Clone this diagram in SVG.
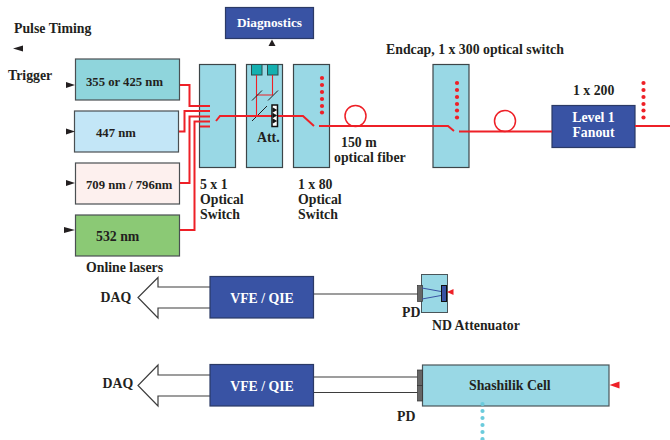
<svg xmlns="http://www.w3.org/2000/svg" width="670" height="440" viewBox="0 0 670 440">
<defs><style>
text{font-family:"Liberation Serif","Times New Roman",serif;font-weight:bold;font-size:13.8px;fill:#231f20}
text.l{font-size:12.7px}
text.w{fill:#fff;text-anchor:middle}
.box{stroke:#4a4f52;stroke-width:1.2}
.sw{fill:#99d8e5;stroke:#3c4548;stroke-width:1.2}
.blue{fill:#3953a4;stroke:#2b3a66;stroke-width:1.2}
.r{fill:none;stroke:#ee2027;stroke-width:2}
.rt{fill:none;stroke:#ee2027;stroke-width:1.1}
.coil{fill:none;stroke:#ee2027;stroke-width:1.5}
.k{fill:none;stroke:#3d3d3d;stroke-width:1.2}
.dot{fill:#ee2027}
.cdot{fill:#6bcbdc}
</style></defs>
<g id="node-pulse"><text x="14" y="33">Pulse Timing</text><path d="M13 48.500L23 45.500V51.500Z" fill="#231f20"/></g>
<g id="node-trigger"><text x="8" y="79.500">Trigger</text></g>
<g id="laser-355"><rect class="box" x="75.500" y="59" width="104" height="41" fill="#8fd5dc"/><text class="l" x="86" y="85.500">355 or 425 nm</text><path d="M66 82L75 85L66 88Z" fill="#231f20"/></g>
<g id="laser-447"><rect class="box" x="74.500" y="111" width="104" height="41" fill="#c3e6f7"/><text class="l" x="96" y="137">447 nm</text><path d="M66 128.500L75 131.500L66 134.500Z" fill="#231f20"/></g>
<g id="laser-709"><rect class="box" x="75.500" y="163" width="104" height="41" fill="#fdf0ee"/><text class="l" x="86" y="189">709 nm / 796nm</text><path d="M66 180L75 183L66 186Z" fill="#231f20"/></g>
<g id="laser-532"><rect class="box" x="75.500" y="215" width="104" height="41" fill="#8bc975"/><text x="96" y="240.500">532 nm</text><path d="M64 227L75 230L64 233Z" fill="#231f20"/><text x="86" y="272">Online lasers</text></g>
<g id="switch-5x1"><rect class="sw" x="199.500" y="64.500" width="36" height="103"/>
<text x="200" y="189">5 x 1</text><text x="200" y="204">Optical</text><text x="200" y="219">Switch</text></g>
<g id="att-box"><rect class="sw" x="246.500" y="64.500" width="36" height="103"/>
<rect x="251.500" y="64.500" width="10.500" height="10.500" fill="#14b0b0" stroke="#2d4a4a"/><rect x="267.500" y="64.500" width="10.500" height="10.500" fill="#14b0b0" stroke="#2d4a4a"/>
<path class="rt" d="M256.500 75V116M272.500 75V95H256.500"/>
<path d="M252 100.500L262 90.500M268 100.500L278 90.500M252 121L267 106" stroke="#222" stroke-width="1" fill="none"/>
<text x="257" y="142">Att.</text></g>
<g id="switch-1x80"><rect class="sw" x="293.500" y="64.500" width="36" height="103"/>
<circle class="dot" cx="322" cy="78" r="2.100"/><circle class="dot" cx="322" cy="85" r="2.100"/><circle class="dot" cx="322" cy="92" r="2.100"/><circle class="dot" cx="322" cy="99" r="2.100"/><circle class="dot" cx="322" cy="106" r="2.100"/><circle class="dot" cx="322" cy="112.500" r="2.100"/>
<text x="298" y="189">1 x 80</text><text x="298" y="204">Optical</text><text x="298" y="219">Switch</text></g>
<g id="diagnostics"><rect class="blue" x="225.500" y="7.500" width="88" height="31"/><text class="w" x="269.500" y="27" style="font-size:13.300px">Diagnostics</text><path d="M272 39.500L268.500 46H275.500Z" fill="#231f20"/></g>
<g id="fiber-label"><text x="341" y="147">150 m</text><text x="334" y="162">optical fiber</text></g>
<text x="386" y="54">Endcap, 1 x 300 optical switch</text>
<g id="endcap-switch"><rect class="sw" x="433" y="64.500" width="36" height="103"/>
<circle class="dot" cx="457" cy="83" r="2.100"/><circle class="dot" cx="457" cy="90" r="2.100"/><circle class="dot" cx="457" cy="97" r="2.100"/><circle class="dot" cx="457" cy="104" r="2.100"/><circle class="dot" cx="457" cy="110.500" r="2.100"/><circle class="dot" cx="457" cy="117.500" r="2.100"/></g>
<g id="fanout"><rect class="blue" x="552" y="105.500" width="83" height="42"/><text class="w" x="593.500" y="121.500">Level 1</text><text class="w" x="593.500" y="137">Fanout</text>
<text x="573" y="95">1 x 200</text>
<circle class="dot" cx="643.500" cy="83" r="2.100"/><circle class="dot" cx="643.500" cy="90" r="2.100"/><circle class="dot" cx="643.500" cy="97" r="2.100"/><circle class="dot" cx="643.500" cy="104" r="2.100"/><circle class="dot" cx="643.500" cy="110.500" r="2.100"/><circle class="dot" cx="643.500" cy="117.500" r="2.100"/></g>
<g id="daq-1"><path class="k" d="M210 287H158V277.500L138 297.500L158 318V308H210" fill="#fff"/><text x="100.500" y="301.500">DAQ</text></g>
<g id="vfe-1"><rect class="blue" x="210" y="276.500" width="103.500" height="41.500"/><text class="w" x="262" y="302.500">VFE / QIE</text></g>
<g id="nd-att"><rect x="421.500" y="274.500" width="26" height="38" fill="#99d8e5" stroke="#4a5559" stroke-width="1"/>
<rect x="417.500" y="285.500" width="5" height="16" fill="#666" stroke="#333" stroke-width=".7"/>
<rect x="441.500" y="285.500" width="5" height="16" fill="#3953a4" stroke="#111" stroke-width="1"/>
<path d="M422 288L441 291.500M422 299L441 295.500" stroke="#3953a4" stroke-width="1" fill="none"/>
<path d="M447 292L453.500 289V295Z" fill="#ee2027"/>
<text x="402" y="317">PD</text><text x="432" y="330">ND Attenuator</text></g>
<g id="daq-2"><path class="k" d="M210 375H158V365L138 385.500L158 406V396H210" fill="#fff"/><text x="102.500" y="388">DAQ</text></g>
<g id="vfe-2"><rect class="blue" x="210" y="364.500" width="103.500" height="41.500"/><text class="w" x="262" y="390.500">VFE / QIE</text></g>
<g id="shashilik"><rect x="422.500" y="365" width="186.500" height="41" fill="#99d8e5" stroke="#4a5559" stroke-width="1.200"/>
<rect x="417.500" y="370" width="5" height="15.500" fill="#666" stroke="#333" stroke-width=".7"/><rect x="417.500" y="385.500" width="5" height="15.500" fill="#666" stroke="#333" stroke-width=".7"/>
<text x="469" y="390">Shashilik Cell</text><text x="397" y="421">PD</text>
<path d="M609.500 385L619.500 381.500V388.500Z" fill="#ee2027"/>
<circle class="cdot" cx="482.500" cy="404" r="2.100"/><circle class="cdot" cx="482.500" cy="411" r="2.100"/><circle class="cdot" cx="482.500" cy="418" r="2.100"/><circle class="cdot" cx="482.500" cy="425" r="2.100"/><circle class="cdot" cx="482.500" cy="432" r="2.100"/><circle class="cdot" cx="482.500" cy="439" r="2.100"/></g>
<g id="connectors">
<path class="r" d="M180 85H189.500V106H210"/>
<path class="r" d="M179 131.500H184.500V111H210"/>
<path class="r" d="M180 183H189.500V116.500H210"/>
<path class="r" d="M180 230H194.500V121.500H210"/>
<path class="r" d="M200 126.500H210"/>
<path class="r" d="M216 121L220 116H303L314 126"/>
<path class="r" d="M319 126H448L454 131"/>
<circle class="coil" cx="355.500" cy="116" r="10.500"/>
<path class="r" d="M459 131.500H552"/>
<circle class="coil" cx="505" cy="121" r="10.500"/>
<path class="r" d="M635 126H670"/>
<path class="k" d="M314 294H418M314 377H417.500M314 392.500H417.500"/>
</g>
<g id="attenuator-wheel"><rect x="272" y="105" width="5.500" height="21.500" fill="#fff" stroke="#111" stroke-width="1.500"/>
<path d="M273 108L276.500 110L273 112ZM273 113.500L276.500 115.500L273 117.500ZM273 119L276.500 121L273 123Z" fill="#111" stroke="#111" stroke-width=".8"/></g>
</svg>
